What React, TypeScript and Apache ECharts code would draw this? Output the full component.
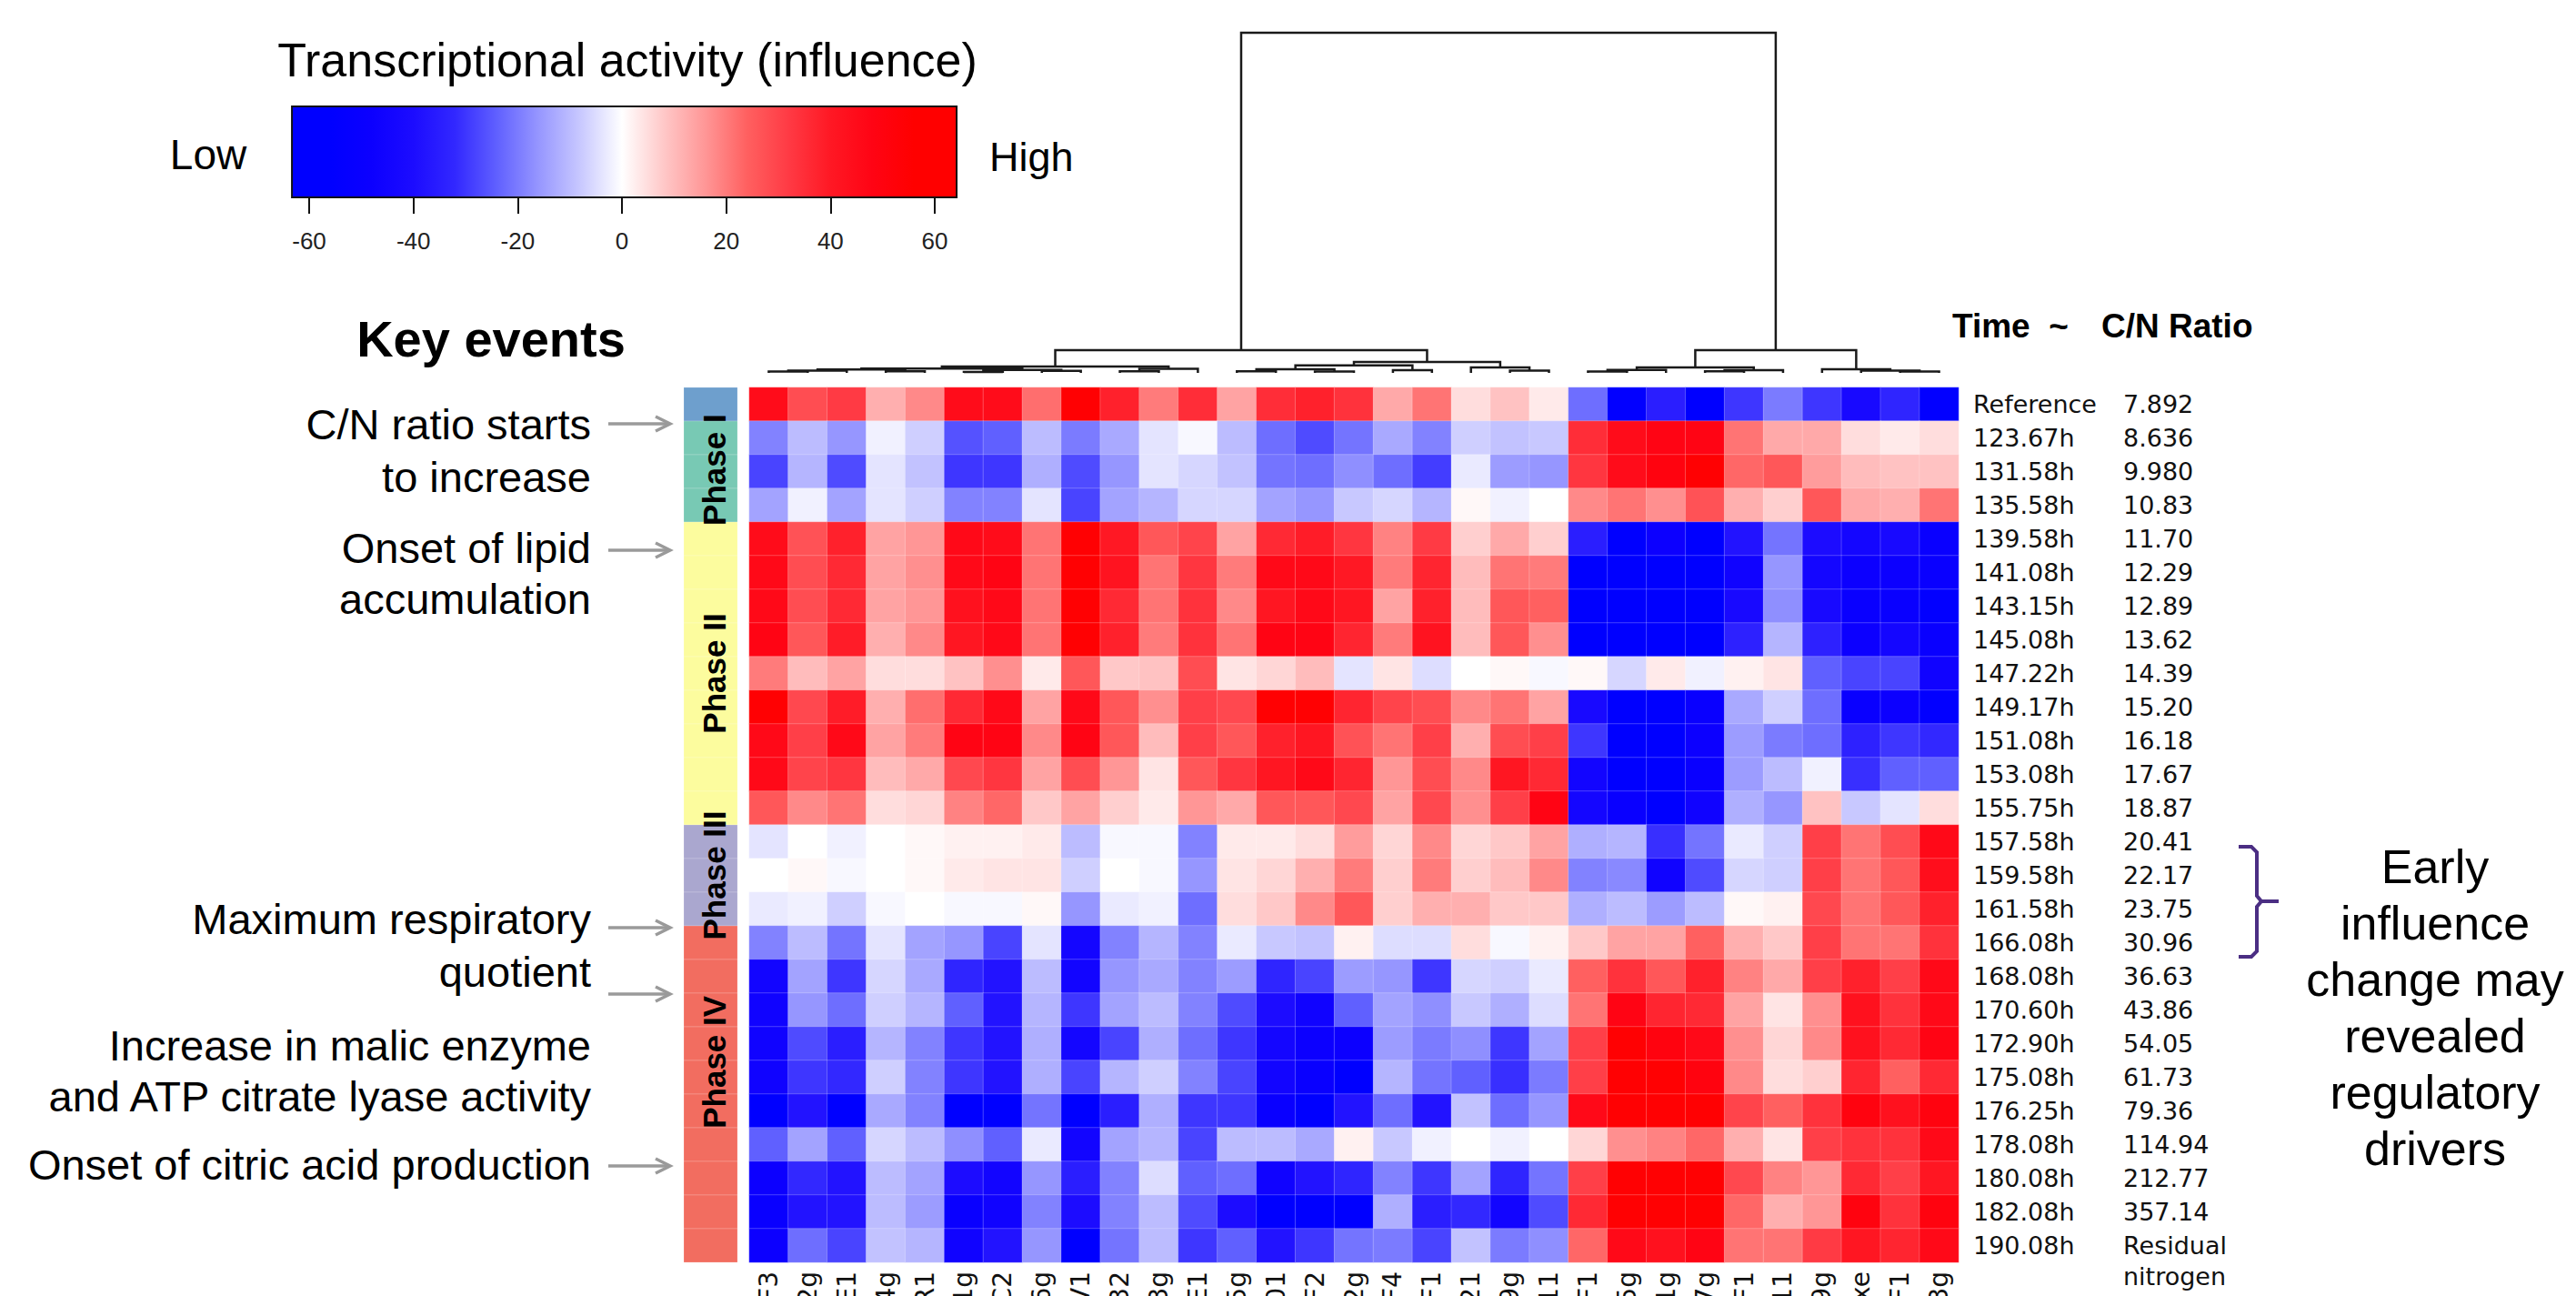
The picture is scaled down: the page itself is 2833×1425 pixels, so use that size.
import React, { useEffect, useRef } from 'react';
import * as echarts from 'echarts';

// ---------------- data ----------------
const columnLabels = ['F3', '2g', 'E1', '4g', 'R1', '1g', 'C2', '6g', 'V1', '32', '3g', 'E1', '5g', '01', 'F2', '2g', 'F4', 'F1', '21', '9g', '11', 'F1', '5g', '1g', '7g', 'F1', '11', '9g', 'xe', 'F1', '3g'];

const timeLabels = ['Reference', '123.67h', '131.58h', '135.58h', '139.58h', '141.08h', '143.15h', '145.08h', '147.22h', '149.17h', '151.08h', '153.08h', '155.75h', '157.58h', '159.58h', '161.58h', '166.08h', '168.08h', '170.60h', '172.90h', '175.08h', '176.25h', '178.08h', '180.08h', '182.08h', '190.08h'];

const cnRatioLabels = ['7.892', '8.636', '9.980', '10.83', '11.70', '12.29', '12.89', '13.62', '14.39', '15.20', '16.18', '17.67', '18.87', '20.41', '22.17', '23.75', '30.96', '36.63', '43.86', '54.05', '61.73', '79.36', '114.94', '212.77', '357.14', '\u00a0\nResidual\nnitrogen'];

// influence, one array per time point (row), 31 regulators (columns)
const influenceRows: number[][] = [
  [45, 28, 32, 12, 18, 45, 45, 22, 55, 38, 20, 35, 14, 35, 38, 34, 13, 21, 5, 9, 3, -22, -55, -35, -58, -30, -20, -30, -42, -33, -55],
  [-19, -10, -16, -2, -7, -26, -24, -10, -20, -13, -4, -1, -10, -22, -27, -21, -13, -19, -7, -9, -8, 35, 45, 48, 48, 21, 13, 13, 5, 3, 5],
  [-28, -11, -27, -4, -9, -30, -30, -12, -27, -16, -4, -6, -9, -21, -22, -17, -22, -29, -3, -15, -16, 33, 45, 50, 55, 23, 26, 15, 10, 9, 9],
  [-14, -2, -14, -4, -7, -19, -19, -4, -28, -14, -11, -6, -6, -14, -16, -8, -6, -11, 1, -2, 0, 18, 21, 17, 27, 12, 7, 26, 13, 12, 21],
  [45, 27, 38, 14, 16, 46, 45, 21, 55, 40, 26, 30, 14, 36, 39, 33, 19, 32, 7, 13, 7, -35, -58, -48, -58, -38, -21, -40, -44, -42, -50],
  [46, 28, 36, 14, 17, 46, 48, 21, 55, 42, 21, 33, 20, 46, 46, 40, 20, 37, 10, 21, 20, -58, -60, -58, -58, -46, -16, -44, -48, -48, -50],
  [46, 28, 36, 14, 16, 43, 46, 21, 55, 36, 21, 34, 18, 41, 46, 41, 14, 38, 10, 26, 24, -58, -58, -58, -58, -42, -17, -42, -50, -50, -55],
  [48, 26, 39, 12, 18, 41, 46, 21, 55, 38, 20, 34, 21, 48, 48, 37, 20, 42, 10, 26, 17, -58, -58, -58, -58, -34, -11, -34, -48, -44, -50],
  [20, 10, 14, 5, 5, 9, 17, 3, 26, 8, 9, 28, 4, 6, 10, -4, 4, -5, 0, 1, -1, 1, -6, 3, -2, 2, 4, -24, -28, -28, -46],
  [55, 29, 39, 12, 22, 36, 46, 14, 46, 26, 17, 31, 29, 55, 55, 37, 30, 28, 18, 21, 14, -42, -58, -58, -50, -13, -7, -22, -50, -48, -55],
  [46, 31, 46, 14, 20, 48, 48, 18, 48, 26, 10, 31, 26, 38, 41, 27, 21, 31, 12, 28, 31, -30, -58, -58, -48, -15, -20, -22, -34, -30, -32],
  [46, 30, 33, 10, 13, 29, 33, 14, 28, 16, 4, 26, 33, 41, 46, 37, 16, 28, 18, 41, 36, -45, -58, -58, -50, -15, -10, -2, -31, -24, -24],
  [26, 18, 21, 5, 6, 19, 23, 8, 14, 7, 3, 16, 13, 26, 26, 29, 14, 29, 17, 31, 48, -44, -50, -58, -46, -12, -16, 9, -8, -4, 5],
  [-4, 0, -2, 0, 1, 2, 2, 3, -10, -1, -1, -19, 3, 3, 5, 15, 6, 18, 6, 8, 14, -12, -11, -31, -21, -3, -7, 31, 21, 28, 46],
  [0, 1, -1, 0, 1, 3, 4, 4, -7, 0, -1, -16, 4, 6, 12, 20, 7, 20, 7, 10, 18, -19, -18, -46, -27, -6, -7, 31, 21, 26, 44],
  [-3, -2, -7, -1, 0, -1, -1, 1, -16, -3, -2, -22, 5, 8, 18, 26, 7, 12, 12, 8, 8, -12, -10, -15, -10, 1, 2, 29, 21, 26, 38],
  [-19, -10, -21, -4, -14, -16, -28, -4, -44, -19, -11, -19, -3, -8, -9, 2, -5, -5, 5, -1, 2, 8, 14, 14, 24, 12, 8, 31, 21, 21, 34],
  [-45, -14, -30, -6, -13, -33, -38, -10, -45, -16, -13, -19, -15, -33, -28, -15, -16, -30, -6, -7, -3, 24, 34, 26, 38, 19, 13, 31, 38, 31, 46],
  [-46, -16, -22, -7, -11, -24, -38, -11, -30, -14, -10, -19, -27, -40, -46, -24, -14, -17, -8, -12, -5, 21, 48, 37, 36, 14, 4, 17, 43, 34, 46],
  [-46, -27, -35, -11, -19, -30, -38, -12, -44, -28, -12, -22, -30, -44, -48, -48, -15, -20, -17, -30, -14, 31, 55, 50, 46, 17, 6, 18, 43, 36, 48],
  [-46, -30, -32, -7, -19, -30, -38, -12, -28, -11, -7, -19, -28, -45, -50, -58, -11, -21, -24, -31, -20, 31, 55, 55, 50, 18, 5, 7, 37, 24, 36],
  [-58, -38, -58, -13, -19, -58, -58, -21, -58, -35, -12, -30, -30, -50, -58, -38, -22, -38, -9, -22, -16, 46, 55, 55, 55, 30, 24, 34, 50, 43, 50],
  [-24, -14, -24, -6, -10, -17, -24, -3, -45, -14, -11, -28, -10, -10, -13, 2, -8, -2, 0, -2, 0, 6, 17, 19, 23, 12, 4, 31, 34, 34, 46],
  [-48, -32, -38, -10, -14, -40, -45, -16, -35, -19, -5, -24, -22, -46, -38, -33, -19, -30, -14, -33, -21, 31, 55, 55, 55, 29, 19, 16, 36, 31, 41],
  [-50, -38, -38, -10, -15, -50, -46, -19, -40, -19, -10, -27, -40, -58, -58, -58, -12, -35, -32, -45, -27, 36, 55, 55, 55, 23, 12, 16, 50, 34, 50],
  [-48, -22, -28, -9, -11, -46, -38, -16, -58, -21, -10, -30, -24, -38, -30, -21, -20, -28, -9, -20, -17, 23, 46, 43, 48, 21, 21, 32, 41, 37, 46],
];

// phase of each row: 0 = reference, 1..4 = Phase I..IV
const rowPhase = [0, 1, 1, 1, 2, 2, 2, 2, 2, 2, 2, 2, 2, 3, 3, 3, 4, 4, 4, 4, 4, 4, 4, 4, 4, 4];
const phaseNames = ['', 'Phase I', 'Phase II', 'Phase III', 'Phase IV'];
const phaseColors = ['#6e9fcd', '#78c9b4', '#fcfc9e', '#aaa7cf', '#f26d60'];
const phaseLabelCenters = [0, 2.45, 8.5, 14.5, 20.05];

// colour scale, evenly spaced from -64 to 64
const scaleMin = -64;
const scaleMax = 64;
const scaleColors = ['#0000ff', '#0000ff', '#0c00ff', '#1c0cff', '#3228ff', '#6060ff', '#9696ff', '#c8c8ff', '#ffffff', '#ffc8c8', '#ff9696', '#ff6060', '#ff3a44', '#ff1824', '#ff0414', '#ff0000', '#ff0000'];
const legendBarRange = [-63.3, 64.2];

// dendrogram merges: [nodeA, nodeB, height]; leaves 0..30, merged node k -> 31 + k
const dendroMerges: [number, number, number][] = [
  [0, 1, 0.4], [31, 2, 0.7], [3, 4, 0.5], [32, 33, 1.0], [5, 6, 0.3], [7, 8, 0.6], [35, 36, 0.9], [34, 37, 1.3],
  [9, 10, 0.5], [39, 11, 1.2], [38, 40, 1.9],
  [12, 13, 0.5], [14, 15, 0.4], [42, 43, 1.1], [16, 17, 0.8], [44, 45, 2.2], [19, 20, 0.7], [18, 47, 1.6], [46, 48, 3.2],
  [41, 49, 6.7],
  [21, 22, 0.4], [51, 23, 0.9], [24, 25, 0.5], [53, 26, 0.8], [52, 54, 1.6], [29, 30, 0.4], [28, 56, 0.7], [27, 57, 1.1],
  [55, 58, 6.7],
  [50, 59, 100],
];

const keyEventLines = ['C/N ratio starts', 'to increase', 'Onset of lipid', 'accumulation', 'Maximum respiratory', 'quotient', 'Increase in malic enzyme', 'and ATP citrate lyase activity', 'Onset of citric acid production'];
const keyEventLineY = [466, 524, 602, 658, 1010, 1068, 1149, 1205, 1280];
const keyEventArrowY = [466, 605, 1020, 1093, 1282];

const noteLines = ['Early', 'influence', 'change may', 'revealed', 'regulatory', 'drivers'];

// ---------------- helpers ----------------
const ARIAL = "'Liberation Sans', Arial, Helvetica, sans-serif";
const DEJAVU = "'DejaVu Sans', Verdana, sans-serif";

function hexToRgb(h: string) {
  const n = parseInt(h.slice(1), 16);
  return [(n >> 16) & 255, (n >> 8) & 255, n & 255];
}
function colorAt(v: number) {
  const t = ((v - scaleMin) / (scaleMax - scaleMin)) * (scaleColors.length - 1);
  const i = Math.max(0, Math.min(scaleColors.length - 2, Math.floor(t)));
  const f = Math.max(0, Math.min(1, t - i));
  const a = hexToRgb(scaleColors[i]);
  const b = hexToRgb(scaleColors[i + 1]);
  const c = a.map((x, k) => Math.round(x + (b[k] - x) * f));
  return `rgb(${c[0]},${c[1]},${c[2]})`;
}

export default function App() {
  const ref = useRef<HTMLDivElement>(null);

  useEffect(() => {
    const chart = echarts.init(ref.current as HTMLDivElement, null, { renderer: 'svg' });

    const heatData: number[][] = [];
    influenceRows.forEach((row, r) => row.forEach((v, c) => heatData.push([c, r, v])));

    // dendrogram segments
    const nLeaves = columnLabels.length;
    const pos: number[] = [];
    const hgt: number[] = [];
    for (let i = 0; i < nLeaves; i++) {
      pos[i] = i + 0.5;
      hgt[i] = 0;
    }
    const dendroData: number[][] = [];
    dendroMerges.forEach(([a, b, h], k) => {
      const id = nLeaves + k;
      pos[id] = (pos[a] + pos[b]) / 2;
      hgt[id] = h;
      dendroData.push([pos[a], pos[b], h, hgt[a], hgt[b]]);
    });

    // legend gradient
    const [bMin, bMax] = legendBarRange;
    const stops: { offset: number; color: string }[] = [{ offset: 0, color: colorAt(bMin) }];
    for (let k = 0; k < scaleColors.length; k++) {
      const v = scaleMin + (k * (scaleMax - scaleMin)) / (scaleColors.length - 1);
      const o = (v - bMin) / (bMax - bMin);
      if (o > 0 && o < 1) stops.push({ offset: o, color: colorAt(v) });
    }
    stops.push({ offset: 1, color: colorAt(bMax) });

    const phaseBarData = rowPhase.map((p, r) => [r, p]);
    const phaseLabelData = phaseNames.map((n, i) => [phaseLabelCenters[i], i]).filter((d) => d[1] > 0);

    const graphic: any[] = [];
    const txt = (text: string, x: number, y: number, size: number, align: string, weight = 'normal', family = ARIAL) => ({
      type: 'text',
      x,
      y,
      silent: true,
      style: { text, fontSize: size, fontFamily: family, fontWeight: weight, fill: '#000', align, verticalAlign: 'middle' },
    });
    graphic.push(txt('Transcriptional activity (influence)', 690, 66, 52, 'center'));
    graphic.push(txt('Low', 229, 170, 46, 'center'));
    graphic.push(txt('High', 1088, 172, 45, 'left'));
    graphic.push(txt('Key events', 540, 372, 56, 'center', 'bold'));
    keyEventLines.forEach((l, i) => graphic.push(txt(l, 650, keyEventLineY[i], 47, 'right')));
    keyEventArrowY.forEach((y) => {
      graphic.push({ type: 'line', silent: true, shape: { x1: 669, y1: y, x2: 736, y2: y }, style: { stroke: '#9a9a9a', lineWidth: 3.5 } });
      graphic.push({
        type: 'polyline',
        silent: true,
        shape: { points: [[721, y - 8], [737, y], [721, y + 8]] },
        style: { stroke: '#9a9a9a', lineWidth: 3.5, fill: 'none' },
      });
    });
    graphic.push(txt('Time', 2147, 358, 37, 'left', 'bold'));
    graphic.push(txt('~', 2264, 358, 37, 'center', 'bold'));
    graphic.push(txt('C/N Ratio', 2311, 358, 37, 'left', 'bold'));
    graphic.push({
      type: 'polyline',
      silent: true,
      shape: { points: [[2462, 931], [2476, 931], [2482, 937], [2482, 985], [2487, 991], [2506, 991]] },
      style: { stroke: '#4b2e83', lineWidth: 4, fill: 'none' },
    });
    graphic.push({
      type: 'polyline',
      silent: true,
      shape: { points: [[2487, 991], [2482, 997], [2482, 1046], [2476, 1052], [2462, 1052]] },
      style: { stroke: '#4b2e83', lineWidth: 4, fill: 'none' },
    });
    noteLines.forEach((l, i) => graphic.push(txt(l, 2678, 953 + i * 62, 52, 'center')));

    const gridBase = { containLabel: false, outerBoundsMode: 'none' };

    const option: any = {
      animation: false,
      backgroundColor: '#ffffff',
      grid: [
        { ...gridBase, left: 824, top: 426, width: 1330, height: 962 },
        { ...gridBase, left: 340, top: 117, width: 688, height: 100 },
        { ...gridBase, left: 824, top: 36, width: 1330, height: 374 },
        { ...gridBase, left: 752, top: 426, width: 59, height: 962 },
      ],
      xAxis: [
        {
          type: 'category',
          gridIndex: 0,
          data: columnLabels,
          axisLine: { show: false },
          axisTick: { show: false },
          axisLabel: { rotate: 90, interval: 0, margin: 10, fontSize: 28, fontFamily: DEJAVU, color: '#111' },
        },
        {
          type: 'value',
          gridIndex: 1,
          min: -60,
          max: 60,
          interval: 20,
          axisLine: { show: false },
          axisTick: { show: true, length: 18, lineStyle: { color: '#111', width: 2 } },
          axisLabel: { margin: 35, fontSize: 26, fontFamily: ARIAL, color: '#222' },
          splitLine: { show: false },
        },
        { type: 'value', gridIndex: 2, min: 0, max: 31, show: false },
        { type: 'value', gridIndex: 3, min: 0, max: 1, show: false },
      ],
      yAxis: [
        {
          type: 'category',
          gridIndex: 0,
          data: timeLabels,
          inverse: true,
          position: 'right',
          axisLine: { show: false },
          axisTick: { show: false },
          axisLabel: { interval: 0, margin: 16, fontSize: 27, fontFamily: DEJAVU, color: '#111' },
        },
        {
          type: 'category',
          gridIndex: 0,
          data: cnRatioLabels,
          inverse: true,
          position: 'right',
          offset: 165,
          axisLine: { show: false },
          axisTick: { show: false },
          axisLabel: { interval: 0, margin: 16, fontSize: 27, lineHeight: 34, padding: [18, 0, 0, 0], fontFamily: DEJAVU, color: '#111' },
        },
        { type: 'value', gridIndex: 1, min: 0, max: 1, show: false },
        { type: 'value', gridIndex: 2, min: 0, max: 100, show: false },
        { type: 'value', gridIndex: 3, min: 0, max: 26, inverse: true, show: false },
      ],
      visualMap: {
        type: 'continuous',
        show: false,
        seriesIndex: 0,
        dimension: 2,
        min: scaleMin,
        max: scaleMax,
        inRange: { color: scaleColors },
      },
      series: [
        {
          type: 'heatmap',
          xAxisIndex: 0,
          yAxisIndex: 0,
          data: heatData,
          progressive: 0,
          itemStyle: { borderColor: 'rgba(255,255,255,0.22)', borderWidth: 1 },
          emphasis: { disabled: true },
        },
        {
          type: 'custom',
          xAxisIndex: 1,
          yAxisIndex: 2,
          silent: true,
          clip: false,
          data: [[bMin, 1, bMax, 0]],
          renderItem: (params: any, api: any) => {
            const p0 = api.coord([api.value(0), api.value(1)]);
            const p1 = api.coord([api.value(2), api.value(3)]);
            return {
              type: 'rect',
              shape: { x: p0[0], y: p0[1], width: p1[0] - p0[0], height: p1[1] - p0[1] },
              style: { fill: new echarts.graphic.LinearGradient(0, 0, 1, 0, stops), stroke: '#111', lineWidth: 2 },
            };
          },
        },
        {
          type: 'custom',
          xAxisIndex: 2,
          yAxisIndex: 3,
          silent: true,
          clip: false,
          data: dendroData,
          encode: { x: [0, 1], y: [2, 3, 4] },
          renderItem: (params: any, api: any) => {
            const xl = api.value(0);
            const xr = api.value(1);
            const h = api.value(2);
            const pts = [api.coord([xl, api.value(3)]), api.coord([xl, h]), api.coord([xr, h]), api.coord([xr, api.value(4)])];
            return { type: 'polyline', shape: { points: pts }, style: { stroke: '#1a1a1a', lineWidth: 2.5, fill: 'none' } };
          },
        },
        {
          type: 'custom',
          xAxisIndex: 3,
          yAxisIndex: 4,
          silent: true,
          data: phaseBarData,
          encode: { y: 0 },
          renderItem: (params: any, api: any) => {
            const r = api.value(0);
            const p = api.value(1);
            const a = api.coord([0, r]);
            const b = api.coord([1, r + 1]);
            return {
              type: 'rect',
              shape: { x: a[0], y: a[1], width: b[0] - a[0], height: b[1] - a[1] },
              style: { fill: phaseColors[p], stroke: 'rgba(255,255,255,0.18)', lineWidth: 1 },
            };
          },
        },
        {
          type: 'custom',
          xAxisIndex: 3,
          yAxisIndex: 4,
          silent: true,
          clip: false,
          data: phaseLabelData,
          encode: { y: 0 },
          renderItem: (params: any, api: any) => {
            const c = api.value(0);
            const i = api.value(1);
            const p = api.coord([0.5, c]);
            return {
              type: 'text',
              x: p[0] + 4,
              y: p[1],
              rotation: Math.PI / 2,
              style: { text: phaseNames[i], fontSize: 35, fontWeight: 'bold', fontFamily: ARIAL, fill: '#000', align: 'center', verticalAlign: 'middle' },
            };
          },
        },
      ],
      graphic,
    };

    chart.setOption(option);
    return () => chart.dispose();
  }, []);

  return <div ref={ref} style={{ position: 'absolute', left: 0, top: 0, width: 2833, height: 1425, background: '#fff' }} />;
}
